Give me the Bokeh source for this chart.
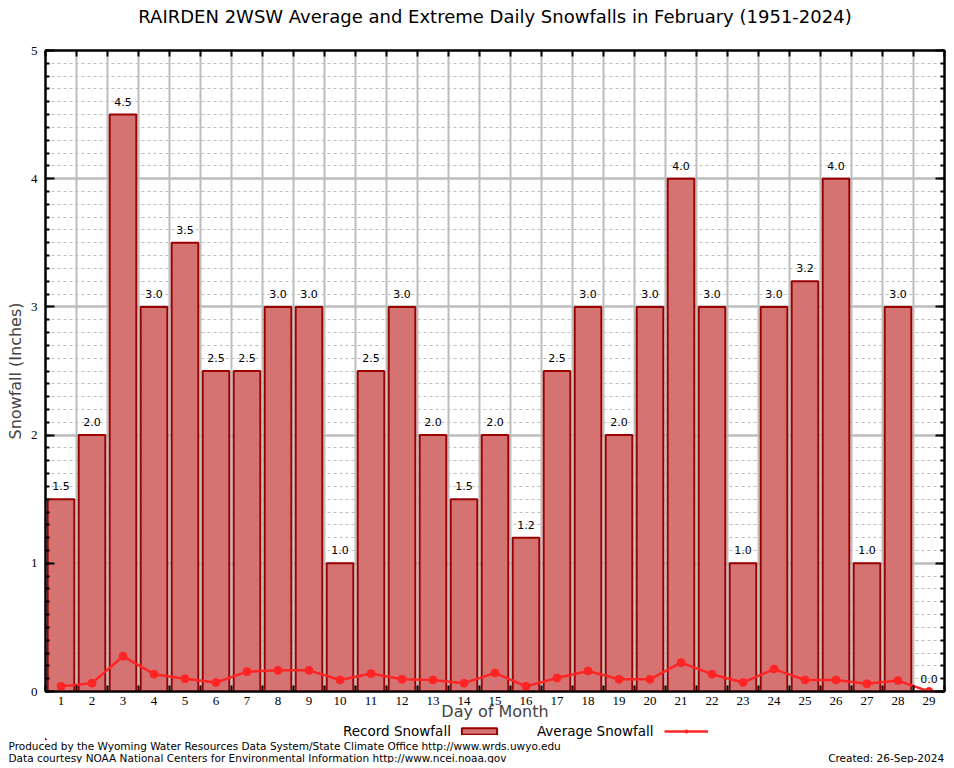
from bokeh.plotting import figure
from bokeh.layouts import column
from bokeh.models import (Range1d, FixedTicker, SingleIntervalTicker, LinearAxis, Title,
                          Legend, LegendItem, ColumnDataSource)
from bokeh.core.properties import value
from bokeh.embed import file_html
from bokeh.resources import INLINE

# ---- data ----
days = list(range(1, 30))
day_labels = [str(d) for d in days]
record_snow = [1.5, 2.0, 4.5, 3.0, 3.5, 2.5, 2.5, 3.0, 3.0, 1.0,
               2.5, 3.0, 2.0, 1.5, 2.0, 1.2, 2.5, 3.0, 2.0, 3.0,
               4.0, 3.0, 1.0, 3.0, 3.2, 4.0, 1.0, 3.0, 0.0]
avg_snow = [0.04, 0.065, 0.275, 0.135, 0.10, 0.07, 0.155, 0.165, 0.165, 0.09,
            0.14, 0.095, 0.09, 0.065, 0.145, 0.04, 0.105, 0.16, 0.095, 0.095,
            0.225, 0.135, 0.07, 0.175, 0.09, 0.09, 0.06, 0.085, 0.0]
y_ticks = [0, 1, 2, 3, 4, 5]

TITLE = "RAIRDEN 2WSW Average and Extreme Daily Snowfalls in February (1951-2024)"
Y_TITLE = "Snowfall (Inches)"
X_TITLE = "Day of Month"
SERIES = ["Record Snowfall", "Average Snowfall"]
FOOT1 = "Produced by the Wyoming Water Resources Data System/State Climate Office http://www.wrds.uwyo.edu"
FOOT2 = "Data courtesy NOAA National Centers for Environmental Information http://www.ncei.noaa.gov"
CREATED = "Created: 26-Sep-2024"

BAR_FILL = "#d57272"
BAR_LINE = "#990000"
AVG_COLOR = "#ff2525"
GRID = "#bdbdbd"
SANS = "DejaVu Sans"
SERIF = "Liberation Serif"

# ================= main chart =================
p = figure(frame_width=899, frame_height=641, output_backend="svg", toolbar_location=None,
           x_range=Range1d(0.5, 29.5), y_range=Range1d(0, 5),
           min_border_left=45, min_border_right=2, min_border_top=50, min_border_bottom=5,
           x_axis_location=None, y_axis_location=None)
p.outline_line_color = "black"
p.outline_line_width = 2
p.background_fill_color = "white"
p.border_fill_color = "white"

xticker = FixedTicker(ticks=days, minor_ticks=[d - 0.5 for d in days] + [29.5])
yticker = SingleIntervalTicker(interval=1, num_minor_ticks=10)

def make_x_axis(labels):
    ax = LinearAxis(ticker=xticker)
    ax.axis_line_color = "black"
    ax.axis_line_width = 2
    ax.major_tick_line_color = None
    ax.major_tick_in = 0
    ax.major_tick_out = 0
    ax.minor_tick_in = 6
    ax.minor_tick_out = 0
    ax.minor_tick_line_color = "black"
    ax.minor_tick_line_width = 2
    ax.major_label_text_font = SERIF
    ax.major_label_text_color = "black"
    if labels:
        ax.major_label_text_font_size = "13px"
        ax.major_label_standoff = 5
        ax.major_label_overrides = {d: s for d, s in zip(days, day_labels)}
        ax.axis_label = X_TITLE
        ax.axis_label_text_font = SANS
        ax.axis_label_text_font_size = "16px"
        ax.axis_label_text_font_style = "normal"
        ax.axis_label_standoff = -6
    else:
        ax.major_label_text_font_size = "1px"
        ax.major_label_standoff = 0
        ax.major_label_overrides = {d: "" for d in days}
    return ax

def make_y_axis(labels):
    ax = LinearAxis(ticker=yticker)
    ax.axis_line_color = "black"
    ax.axis_line_width = 2
    ax.major_tick_in = 9
    ax.major_tick_out = 0
    ax.major_tick_line_width = 2
    ax.minor_tick_in = 4
    ax.minor_tick_out = 0
    ax.minor_tick_line_width = 2
    ax.major_label_text_font = SERIF
    ax.major_label_text_color = "black"
    if labels:
        ax.major_label_text_font_size = "13px"
        ax.major_label_standoff = 8
        ax.axis_label = Y_TITLE
        ax.axis_label_text_font = SANS
        ax.axis_label_text_font_size = "16px"
        ax.axis_label_text_font_style = "normal"
        ax.axis_label_standoff = 3
    else:
        ax.major_label_text_font_size = "1px"
        ax.major_label_standoff = 0
        ax.major_label_overrides = {t: "" for t in y_ticks}
    return ax

p.add_layout(make_x_axis(True), "below")
p.add_layout(make_x_axis(False), "above")
p.add_layout(make_y_axis(True), "left")
p.add_layout(make_y_axis(False), "right")

p.xgrid.ticker = xticker
p.xgrid.grid_line_color = None
p.xgrid.minor_grid_line_color = GRID
p.xgrid.minor_grid_line_width = 2
p.ygrid.ticker = yticker
p.ygrid.grid_line_color = GRID
p.ygrid.grid_line_width = 2.5
p.ygrid.minor_grid_line_color = GRID
p.ygrid.minor_grid_line_width = 1
p.ygrid.minor_grid_line_dash = "3 3"

src = ColumnDataSource(dict(day=days, rec=record_snow, avg=avg_snow,
                            lbl=["%.1f" % v for v in record_snow]))

p.vbar(x="day", top="rec", width=0.86, bottom=0, source=src,
       fill_color=BAR_FILL, line_color=BAR_LINE, line_width=2)
p.text(x="day", y="rec", text="lbl", source=src, text_align="center", text_baseline="bottom",
       y_offset=-9, text_font=value(SANS), text_font_size="11px", text_color="black")
p.line(x="day", y="avg", source=src, line_color=AVG_COLOR, line_width=2.5)
p.scatter(x="day", y="avg", source=src, size=8, marker="circle",
          fill_color=AVG_COLOR, line_color=AVG_COLOR)

# title (trailing empty line lifts it into the top margin)
p.add_layout(Title(text=TITLE + "\n", align="center", text_font=SANS, text_font_size="18px",
                   text_font_style="normal", text_color="black", standoff=0,
                   text_line_height=1.1), "above")

# ================= strip below: legend row and credits =================
# its frame lines up with the chart frame; the ranges keep the swatch
# renderers' data well out of view, so only their legend glyphs appear
q = figure(frame_width=899, frame_height=16, output_backend="svg", toolbar_location=None,
           x_range=Range1d(1000, 1899), y_range=Range1d(100, 101),
           min_border_left=45, min_border_right=2, min_border_top=0, min_border_bottom=0,
           x_axis_location=None, y_axis_location=None)
q.outline_line_color = None
q.grid.visible = False
q.background_fill_color = "white"
q.border_fill_color = "white"

blank_r = q.scatter(x=[], y=[], size=1, fill_alpha=0, line_alpha=0)
bar_r = q.vbar(x="day", top="rec", width=0.86, bottom=0, source=src,
               fill_color=BAR_FILL, line_color=BAR_LINE, line_width=2)
line_r = q.line(x="day", y="avg", source=src, line_color=AVG_COLOR, line_width=2.5)
pts_r = q.scatter(x="day", y="avg", source=src, size=8, marker="circle",
                  fill_color=AVG_COLOR, line_color=AVG_COLOR)

legend = Legend(items=[LegendItem(label=value(SERIES[0]), renderers=[blank_r]),
                       LegendItem(label=value(SERIES[1] + "\u00a0"), renderers=[bar_r]),
                       LegendItem(label=value(""), renderers=[line_r, pts_r])],
                orientation="horizontal", location=(218, 0),
                glyph_width=44, glyph_height=8, label_standoff=36, spacing=6,
                label_width=0, label_height=12, padding=0, margin=0,
                border_line_color=None, background_fill_alpha=0,
                label_text_font=SANS, label_text_font_size="13.5px", label_text_color="black")
q.add_layout(legend)

f1 = Title(text=FOOT1, align="left", offset=-37, standoff=-4, text_font=SANS,
           text_font_size="10.5px", text_font_style="normal", text_color="black")
f2 = Title(text=FOOT2 + "\u2003" * 30 + "\u00a0\u00a0" + CREATED, align="left", offset=-37,
           standoff=0, text_font=SANS, text_font_size="10.5px", text_font_style="normal",
           text_color="black")
q.add_layout(f1, "below")
q.add_layout(f2, "below")

open("out.html", "w").write(file_html(column(p, q, spacing=0), INLINE))
